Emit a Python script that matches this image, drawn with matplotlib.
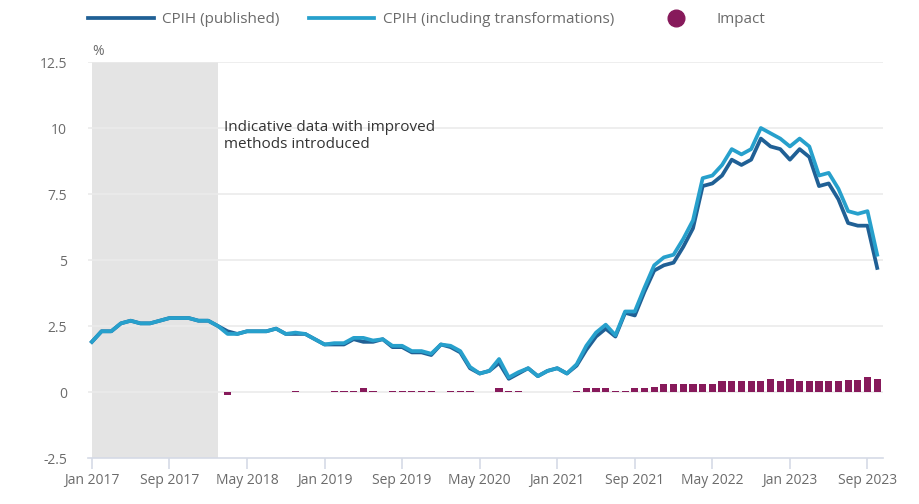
import numpy as np
import matplotlib.pyplot as plt
from matplotlib.lines import Line2D

plt.rcParams['font.family'] = ['Open Sans', 'DejaVu Sans']

# monthly data, Jan 2017 .. Oct 2023
published = [1.9, 2.3, 2.3, 2.6, 2.7, 2.6, 2.6, 2.7, 2.8, 2.8, 2.8, 2.7,
             2.7, 2.5, 2.3, 2.2, 2.3, 2.3, 2.3, 2.4, 2.2, 2.2, 2.2, 2.0,
             1.8, 1.8, 1.8, 2.0, 1.9, 1.9, 2.0, 1.7, 1.7, 1.5, 1.5, 1.4,
             1.8, 1.7, 1.5, 0.9, 0.7, 0.8, 1.1, 0.5, 0.7, 0.9, 0.6, 0.8,
             0.9, 0.7, 1.0, 1.6, 2.1, 2.4, 2.1, 3.0, 2.9, 3.8, 4.6, 4.8,
             4.9, 5.5, 6.2, 7.8, 7.9, 8.2, 8.8, 8.6, 8.8, 9.6, 9.3, 9.2,
             8.8, 9.2, 8.9, 7.8, 7.9, 7.3, 6.4, 6.3, 6.3, 4.7]
transformed = [1.9, 2.3, 2.3, 2.6, 2.7, 2.6, 2.6, 2.7, 2.8, 2.8, 2.8, 2.7,
               2.7, 2.5, 2.2, 2.2, 2.3, 2.3, 2.3, 2.4, 2.2, 2.25, 2.2, 2.0,
               1.8, 1.85, 1.85, 2.05, 2.05, 1.95, 2.0, 1.75, 1.75, 1.55, 1.55, 1.45,
               1.8, 1.75, 1.55, 0.95, 0.7, 0.8, 1.25, 0.55, 0.75, 0.9, 0.6, 0.8,
               0.9, 0.7, 1.05, 1.75, 2.25, 2.55, 2.15, 3.05, 3.05, 3.95, 4.8, 5.1,
               5.2, 5.8, 6.5, 8.1, 8.2, 8.6, 9.2, 9.0, 9.2, 10.0, 9.8, 9.6,
               9.3, 9.6, 9.3, 8.2, 8.3, 7.7, 6.85, 6.75, 6.85, 5.2]
impact = [0, 0, 0, 0, 0, 0, 0, 0, 0, 0, 0, 0,
          0, 0, -0.1, 0, 0, 0, 0, 0, 0, 0.05, 0, 0,
          0, 0.05, 0.05, 0.05, 0.15, 0.05, 0, 0.05, 0.05, 0.05, 0.05, 0.05,
          0, 0.05, 0.05, 0.05, 0, 0, 0.15, 0.05, 0.05, 0, 0, 0,
          0, 0, 0.05, 0.15, 0.15, 0.15, 0.05, 0.05, 0.15, 0.15, 0.2, 0.3,
          0.3, 0.3, 0.3, 0.3, 0.3, 0.4, 0.4, 0.4, 0.4, 0.4, 0.5, 0.4,
          0.5, 0.4, 0.4, 0.4, 0.4, 0.4, 0.45, 0.45, 0.55, 0.5]

tick_labels = ['Jan 2017', 'Sep 2017', 'May 2018', 'Jan 2019', 'Sep 2019', 'May 2020',
               'Jan 2021', 'Sep 2021', 'May 2022', 'Jan 2023', 'Sep 2023']
y_ticks = [-2.5, 0, 2.5, 5, 7.5, 10, 12.5]
y_labels = ['-2.5', '0', '2.5', '5', '7.5', '10', '12.5']

dark_blue = '#206095'
sky_blue = '#27a0cc'
purple = '#871a5b'
grey_text = '#6b6b6b'

x = np.arange(len(published))

fig = plt.figure(figsize=(9.19, 5.04), dpi=100)
ax = fig.add_axes([88/919, 1 - 458/504, (883-88)/919, 396/504])

ax.axvspan(0, 13, color='#e4e4e4', zorder=0, lw=0)
ax.bar(x, impact, width=0.74, color=purple, zorder=2)
ax.plot(x, published, color=dark_blue, lw=2.7, zorder=3)
ax.plot(x, transformed, color=sky_blue, lw=2.7, zorder=4)

ax.set_xlim(-0.4, 81.6)
ax.set_ylim(-2.5, 12.5)
ax.set_yticks(y_ticks)
ax.set_yticklabels(y_labels)
ax.set_xticks(np.arange(0, 81, 8))
ax.set_xticklabels(tick_labels)

for y in y_ticks[1:]:
    ax.axhline(y, color='#ebebeb', lw=1.2, zorder=1)

for s in ['top', 'right', 'left']:
    ax.spines[s].set_visible(False)
ax.spines['bottom'].set_color('#d5dae6')
ax.spines['bottom'].set_linewidth(1.2)
ax.tick_params(axis='y', length=0, pad=15, labelsize=10, labelcolor=grey_text)
ax.tick_params(axis='x', length=8, width=1.2, color='#d5dae6', pad=3,
               labelsize=10, labelcolor=grey_text)

ax.text(0, 12.6, '%', fontsize=10, color=grey_text, ha='left', va='bottom')
ax.text(13.6, 10.3, 'Indicative data with improved\nmethods introduced',
        fontsize=11, color='#333333', ha='left', va='top', linespacing=1.2)

handles = [Line2D([], [], color=dark_blue, lw=2.7),
           Line2D([], [], color=sky_blue, lw=2.7),
           Line2D([], [], color=purple, lw=0, marker='o', markersize=12)]
fig.legend(handles, ['CPIH (published)', 'CPIH (including transformations)', 'Impact'],
           loc='upper left', bbox_to_anchor=(88/919, 1 - 12/504), ncol=3, frameon=False,
           fontsize=11, labelcolor=grey_text, handlelength=4.3, handletextpad=0.55,
           columnspacing=1.9, borderpad=0, borderaxespad=0)

fig.savefig('out.png', dpi=100)
